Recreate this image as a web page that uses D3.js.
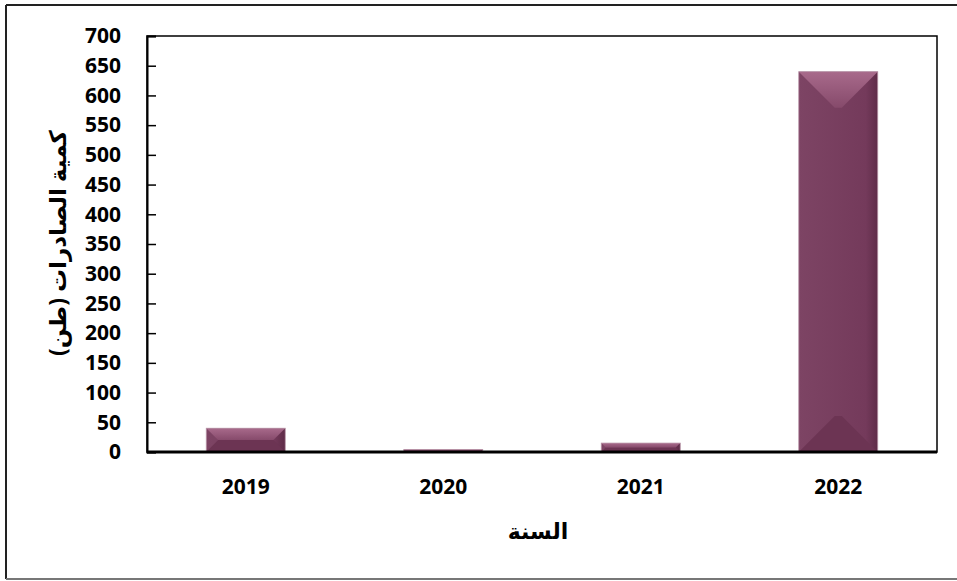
<!DOCTYPE html>
<html>
<head>
<meta charset="utf-8">
<script src="https://cdn.jsdelivr.net/npm/d3@7"></script>
<style>
  body { margin: 0; background: #fff; }
  svg text { font-family: "Noto Sans", "DejaVu Sans", sans-serif; font-weight: bold; fill: #000; }
</style>
</head>
<body>
<div id="chart"></div>
<script>
// data
const years = ["2019", "2020", "2021", "2022"];
const exportsTon = [40, 4, 15, 640];
const yTicks = d3.range(0, 701, 50);
const xTitle = "السنة";
const yTitle = "كمية الصادرات (طن)";

const W = 957, H = 581;
const plot = { left: 147, right: 937, top: 36, bottom: 452 };

const svg = d3.select("#chart").append("svg")
  .attr("width", W).attr("height", H);

// outer frame
svg.append("line").attr("x1", 6).attr("y1", 5).attr("x2", W).attr("y2", 5)
  .attr("stroke", "#222").attr("stroke-width", 2);
svg.append("line").attr("x1", 6).attr("y1", 5).attr("x2", 6).attr("y2", 579)
  .attr("stroke", "#222").attr("stroke-width", 2);
svg.append("line").attr("x1", 6).attr("y1", 579).attr("x2", W).attr("y2", 579)
  .attr("stroke", "#777").attr("stroke-width", 2);

var x = d3.scaleBand().domain(years).range([plot.left, plot.right])
  .paddingInner(0.6).paddingOuter(0.3);
var y = d3.scaleLinear().domain([0, 700]).range([plot.bottom, plot.top]);

// plot area border
svg.append("rect")
  .attr("x", plot.left).attr("y", plot.top)
  .attr("width", plot.right - plot.left).attr("height", plot.bottom - plot.top)
  .attr("fill", "none").attr("stroke", "#000").attr("stroke-width", 1.5);

const defs = svg.append("defs");
const tg = defs.append("linearGradient").attr("id", "topg")
  .attr("x1", 0).attr("y1", 0).attr("x2", 0).attr("y2", 1);
tg.append("stop").attr("offset", "0%").attr("stop-color", "#a86a8b");
tg.append("stop").attr("offset", "100%").attr("stop-color", "#864a6b");
const fg = defs.append("linearGradient").attr("id", "faceg")
  .attr("x1", 0).attr("y1", 0).attr("x2", 1).attr("y2", 0);
fg.append("stop").attr("offset", "0%").attr("stop-color", "#7d4464");
fg.append("stop").attr("offset", "85%").attr("stop-color", "#743a5b");
fg.append("stop").attr("offset", "100%").attr("stop-color", "#5f2c48");

// bars with bevel
const bars = svg.append("g");
years.forEach((yr, i) => {
  const x0 = x(yr), x1 = x(yr) + x.bandwidth();
  const y0 = y(exportsTon[i]), y1 = y(0);
  const b = Math.min(36, x.bandwidth() / 2, (y1 - y0) / 2);
  const g = bars.append("g");
  const poly = (pts, fill) => g.append("polygon")
    .attr("points", pts.map(p => p.join(",")).join(" ")).attr("fill", fill);
  poly([[x0, y0], [x1, y0], [x1, y1], [x0, y1]], "url(#faceg)");
  poly([[x0, y1], [x0 + b, y1 - b], [x1 - b, y1 - b], [x1, y1]], "#6c3453");
  poly([[x0, y0], [x1, y0], [x1 - b, y0 + b], [x0 + b, y0 + b]], "url(#topg)");
  g.append("rect").attr("x", x0).attr("y", y0)
    .attr("width", x1 - x0).attr("height", y1 - y0)
    .attr("fill", "none").attr("stroke", "#b995a8").attr("stroke-width", 0.8);
});

// y axis
svg.append("g")
  .attr("transform", "translate(" + plot.left + ",0)")
  .call(d3.axisRight(y).tickValues(yTicks).tickSize(9).tickFormat(""))
  .call(g => g.select(".domain").attr("stroke-width", 2))
  .call(g => g.selectAll(".tick line").attr("stroke-width", 1.5));
svg.append("g").selectAll("text").data(yTicks).enter().append("text")
  .attr("x", 121).attr("y", d => y(d)).attr("dy", "0.35em")
  .attr("text-anchor", "end").style("font-size", "21px")
  .text(d => d);

// x axis baseline + labels
svg.append("line").attr("x1", plot.left).attr("x2", plot.right)
  .attr("y1", y(0)).attr("y2", y(0)).attr("stroke", "#000").attr("stroke-width", 3);
svg.append("g").selectAll("text").data(years).enter().append("text")
  .attr("x", d => x(d) + x.bandwidth() / 2).attr("y", 487).attr("dy", "0.35em")
  .attr("text-anchor", "middle").style("font-size", "21px")
  .text(d => d);

// titles
svg.append("text").attr("x", 538).attr("y", 531).attr("dy", "0.35em")
  .attr("text-anchor", "middle").style("font-size", "22px").text(xTitle);
svg.append("text")
  .attr("transform", "translate(58,243) rotate(-90)")
  .attr("dy", "0.35em").attr("text-anchor", "middle")
  .style("font-size", "23px").text(yTitle);
</script>
</body>
</html>
